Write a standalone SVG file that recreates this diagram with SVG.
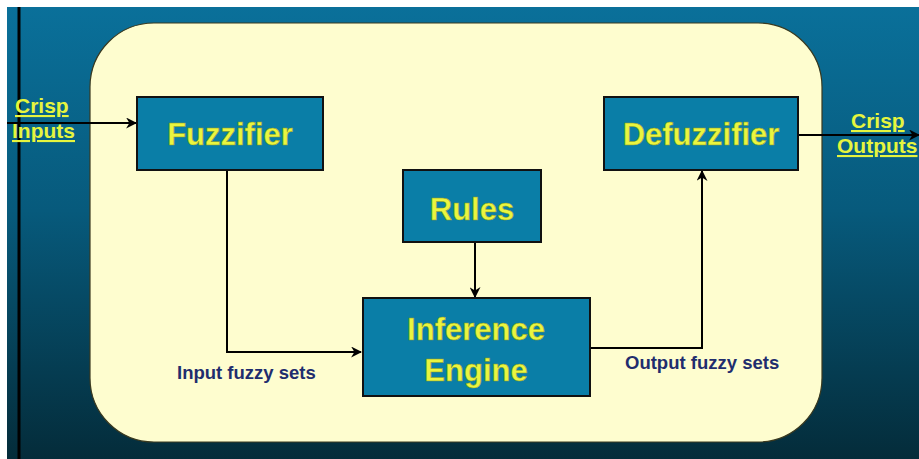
<svg xmlns="http://www.w3.org/2000/svg" width="919" height="459" viewBox="0 0 919 459">
<defs>
<linearGradient id="bg" x1="0" y1="0" x2="0" y2="1">
<stop offset="0" stop-color="#0a709a"/>
<stop offset="0.45" stop-color="#075a7c"/>
<stop offset="1" stop-color="#042c3a"/>
</linearGradient>
<marker id="arr" viewBox="0 0 10 10" refX="9" refY="5" markerWidth="5.5" markerHeight="5.5" orient="auto" markerUnits="strokeWidth">
<path d="M0,0 L10,5 L0,10 L3,5 Z" fill="#000"/>
</marker>
<style>
.box{fill:#0a7ea7;stroke:#111;stroke-width:2}
.bt{font-family:"Liberation Sans",Arial,sans-serif;font-weight:bold;font-size:31px;fill:#e9f540;stroke:#8a9a20;stroke-width:0.5;text-anchor:middle}
.lbl{font-family:"Liberation Sans",Arial,sans-serif;font-weight:bold;font-size:18.5px;fill:#1f2d6e}
.cr{font-family:"Liberation Sans",Arial,sans-serif;font-weight:bold;font-size:21px;fill:#e6f53e;text-decoration:underline}
.ln{fill:none;stroke:#000;stroke-width:2}
</style>
</defs>
<rect x="0" y="0" width="919" height="459" fill="#fff"/>
<rect x="7" y="7" width="912" height="452" fill="url(#bg)"/>
<line x1="19" y1="7" x2="19" y2="459" stroke="#000" stroke-width="3"/>
<rect x="90" y="23" width="732" height="419" rx="64" ry="64" fill="#fefdcf" stroke="#3a3a20" stroke-width="1.2"/>
<g id="connectors">
<line class="ln" x1="7" y1="123" x2="136" y2="123" marker-end="url(#arr)"/>
<polyline class="ln" points="227,171 227,352 361,352" marker-end="url(#arr)"/>
<line class="ln" x1="475" y1="243" x2="475" y2="297" marker-end="url(#arr)"/>
<polyline class="ln" points="590,348 702,348 702,171" marker-end="url(#arr)"/>
<line class="ln" x1="798" y1="135" x2="919" y2="135" marker-end="url(#arr)"/>
</g>
<g id="crisp-inputs">
<text class="cr" x="15" y="113">Crisp</text>
<text class="cr" x="12" y="138">Inputs</text>
</g>
<g id="crisp-outputs">
<text class="cr" x="851" y="128">Crisp</text>
<text class="cr" x="837" y="153">Outputs</text>
</g>
<g id="fuzzifier">
<rect class="box" x="137" y="97" width="186" height="73"/>
<text class="bt" x="230" y="145">Fuzzifier</text>
</g>
<g id="defuzzifier">
<rect class="box" x="604" y="97" width="194" height="73"/>
<text class="bt" x="701" y="145">Defuzzifier</text>
</g>
<g id="rules">
<rect class="box" x="403" y="170" width="138" height="72"/>
<text class="bt" x="472" y="220">Rules</text>
</g>
<g id="inference">
<rect class="box" x="363" y="298" width="227" height="98"/>
<text class="bt" x="476" y="340">Inference</text>
<text class="bt" x="476" y="381">Engine</text>
</g>
<g id="labels">
<text class="lbl" x="177" y="379">Input fuzzy sets</text>
<text class="lbl" x="625" y="369">Output fuzzy sets</text>
</g>
</svg>
